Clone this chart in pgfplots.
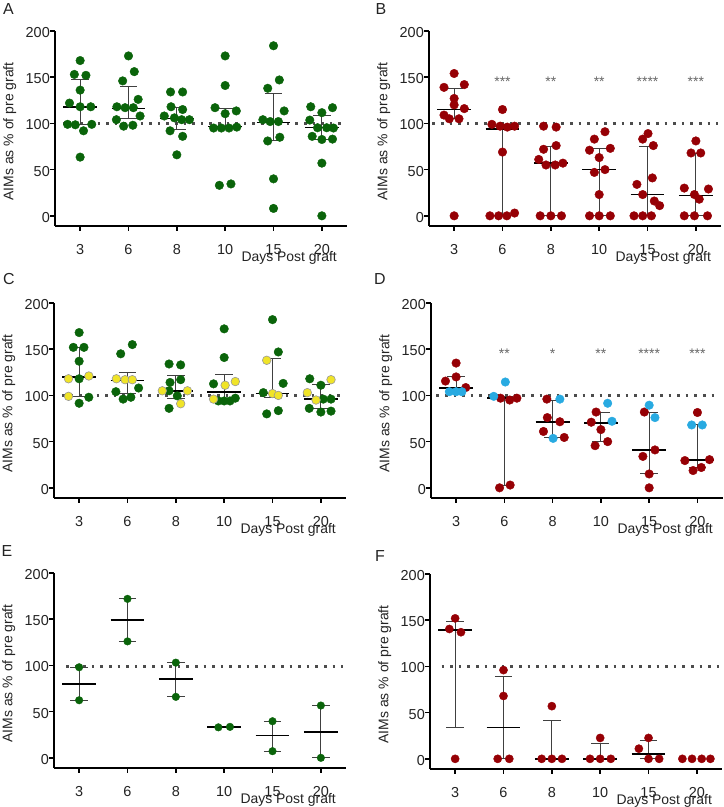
\documentclass[border=0pt]{standalone}
\usepackage{pgfplots}
\pgfplotsset{compat=1.18}
\usepackage{fontspec}
\setmainfont{Liberation Sans}
\definecolor{grn}{RGB}{10,100,10}
\definecolor{rd}{RGB}{150,0,5}
\definecolor{blu}{RGB}{40,170,225}
\definecolor{ylw}{RGB}{240,228,40}
\definecolor{txt}{RGB}{35,35,35}
\newcommand{\iqr}[4]{%
 \pgfmathsetmacro\xl{#1-0.18}\pgfmathsetmacro\xr{#1+0.18}%
 \pgfmathsetmacro\ml{#1-0.35}\pgfmathsetmacro\mr{#1+0.35}%
 \addplot[whisk] coordinates {(#1,#2) (#1,#4)};
 \addplot[whisk] coordinates {(\xl,#2) (\xr,#2)};
 \addplot[whisk] coordinates {(\xl,#4) (\xr,#4)};
 \addplot[med] coordinates {(\ml,#3) (\mr,#3)};
}
\tikzset{stars/.style={font=\fontsize{14}{14}\selectfont, text=black!60, yshift=-5bp}}
\pgfplotsset{
 whisk/.style={black!75, line width=1bp, forget plot},
 med/.style={black, line width=1.6bp, forget plot},
 dotline/.style={line width=3bp, black!70, dash pattern=on 2.6bp off 6bp, forget plot},
 dots/.style={only marks, mark=*, mark size=4.3bp, forget plot},
 panel/.style={
  scale only axis, width=292bp, height=195bp,
  xmin=-0.52, xmax=5.52, ymin=-11, ymax=200,
  axis x line*=bottom, axis y line*=left,
  axis line style={line width=1.8bp, black},
  xtick={0,...,5}, xticklabels={3,6,8,10,15,20},
  ytick={0,50,100,150,200},
  tick style={line width=1.5bp, black},
  major tick length=5bp,
  tick align=outside,
  tick label style={font=\fontsize{14.5}{14.5}\selectfont, text=txt},
  yticklabel style={inner xsep=0bp, yshift=-1.5bp},
  xticklabel style={inner ysep=0bp, yshift=-13bp},
  /pgf/number format/assume math mode=true,
  clip=false,
  ylabel={AIMs as \% of pre graft},
  ylabel style={at={(axis description cs:-0.155,0.485)}, anchor=center, font=\fontsize{14}{14}\selectfont, text=txt},
  xlabel={Days Post graft},
  xlabel style={at={(axis description cs:0.966,-0.13)}, anchor=north east, inner sep=0bp, font=\fontsize{14}{14}\selectfont, text=txt},
 },
}
\begin{document}
\begin{tikzpicture}[x=1bp,y=1bp]
\path[use as bounding box] (0,0) rectangle (724,807);
\node[font=\fontsize{16}{16}\selectfont, text=txt] at (8.5,798) {A};
\node[font=\fontsize{16}{16}\selectfont, text=txt] at (381,798) {B};
\node[font=\fontsize{16}{16}\selectfont, text=txt] at (9,528) {C};
\node[font=\fontsize{16}{16}\selectfont, text=txt] at (380,528) {D};
\node[font=\fontsize{16}{16}\selectfont, text=txt] at (7,256) {E};
\node[font=\fontsize{16}{16}\selectfont, text=txt] at (380,251) {F};

% ---------------- A ----------------
\begin{axis}[panel, at={(55bp,581bp)}, anchor=south west]
\addplot[dotline] coordinates {(-0.35,100) (5.45,100)};
\addplot[dots, color=grn] coordinates {
 (0,168) (-0.12,153) (0.12,152) (0,136) (-0.22,122) (0,118) (0.22,118) (-0.26,99) (-0.1,98.5) (0.24,99) (0.07,92) (0,63.5)
 (1,173) (1.12,156) (0.88,146) (1.2,126) (0.76,118) (0.93,117) (1.1,117) (1.24,108) (0.75,104) (0.9,97) (1.09,98)
 (1.87,134) (2.12,134) (1.88,118) (2.12,115) (1.74,108) (1.95,106) (2.1,104) (2.26,104) (1.86,92) (2.12,86) (2,66)
 (3,173) (3,141) (2.79,117) (3.23,113.5) (3,110.5) (2.76,95) (2.92,95) (3.08,95) (3.24,96) (2.88,33) (3.12,34.5)
 (4,184) (4.12,147) (3.88,138) (4.22,113.5) (3.78,104) (3.93,102) (4.1,102) (3.88,81) (4.13,85) (4,40) (4,8)
 (4.77,118) (5.22,117) (5,111.6) (4.75,103.6) (4.91,95.3) (5.1,95.3) (5.24,95) (4.8,86) (5,82.6) (5.22,83) (5,57) (5,0)
};
\iqr{0}{99}{118}{148}
\iqr{1}{105}{116}{140}
\iqr{2}{93}{105.5}{117}
\iqr{3}{95}{96.5}{116}
\iqr{4}{82}{101}{132}
\iqr{5}{83}{95.5}{109}
\end{axis}

% ---------------- B ----------------
\begin{axis}[panel, at={(429bp,581bp)}, anchor=south west]
\addplot[dotline] coordinates {(-0.45,100) (5.45,100)};
\addplot[dots, color=rd] coordinates {
 (0,154) (-0.21,139) (0.21,142) (0,127) (0,120) (0.21,116) (-0.21,109) (-0.1,105) (0.1,105) (0,0)
 (1,115) (0.78,99) (0.95,97) (1.1,96) (1.25,97) (1,69) (0.74,0) (0.92,0) (1.09,0) (1.25,3)
 (1.85,97) (2.11,96) (2.11,76) (1.85,72) (1.75,61) (1.9,55) (2.09,55) (2.25,57) (1.78,0) (2,0) (2.22,0)
 (3.12,91) (2.9,83) (3.23,73) (2.8,71) (3,63) (2.9,47) (3.12,50) (3,23) (2.8,0) (3,0) (3.23,0)
 (4.01,89) (3.9,83) (4.12,76) (4.1,41) (3.78,34) (3.9,23) (4.14,16) (4.25,11) (3.72,0) (3.9,0) (4.08,0)
 (5,81) (4.9,68) (5.1,68) (4.76,30) (5.26,29) (4.97,23) (5.07,18) (4.76,0) (4.97,0) (5.24,0)
};
\iqr{0}{105}{115}{138}
\iqr{1}{0}{94}{96.5}
\iqr{2}{0}{57}{75}
\iqr{3}{0}{50}{73}
\iqr{4}{0}{23}{75}
\iqr{5}{0}{22}{67}
\node[stars] at (axis cs:1,150) {***};
\node[stars] at (axis cs:2,150) {**};
\node[stars] at (axis cs:3,150) {**};
\node[stars] at (axis cs:4,150) {****};
\node[stars] at (axis cs:5,150) {***};
\end{axis}

% ---------------- C ----------------
\begin{axis}[panel, at={(54bp,309bp)}, anchor=south west]
\addplot[dotline] coordinates {(-0.35,100) (5.45,100)};
\addplot[dots, color=grn] coordinates {
 (0,168) (-0.12,152) (0.1,152) (0,137) (0,118) (0.2,98) (0,91.5)
 (1.1,155) (0.86,145) (1.23,108) (0.76,104) (0.91,96) (1.07,98)
 (1.86,134) (2.1,133) (1.88,114) (2.1,117) (1.86,105) (2.03,99.5) (1.86,86)
 (3,172) (3,141) (2.78,112.5) (3.23,97) (2.88,94) (3.12,94) (3,94)
 (4,182) (4.12,147) (4.22,113) (3.81,103) (3.88,80) (4.12,83.5)
 (4.77,118) (5,111) (5.21,96) (5.05,96) (4.76,86) (5,82) (5.21,83)
};
\addplot[dots, fill=ylw, draw=black!40, line width=0.6bp] coordinates {
 (-0.22,118) (0.2,121) (-0.22,99)
 (0.77,118) (0.95,117) (1.1,117)
 (1.72,105) (2.24,105) (2.1,91)
 (3.02,111) (3.23,115) (2.78,96)
 (3.88,138) (4,102) (4.12,100)
 (5.21,117) (4.72,103) (4.9,95)
};
\iqr{0}{99}{120}{152}
\iqr{1}{102}{116}{125}
\iqr{2}{97}{105}{121}
\iqr{3}{94}{104}{123}
\iqr{4}{98}{102}{140}
\iqr{5}{86}{96}{112}
\end{axis}

% ---------------- D ----------------
\begin{axis}[panel, at={(431bp,309bp)}, anchor=south west, xmax=5.53]
\addplot[dotline] coordinates {(-0.41,100) (5.45,100)};
\addplot[dots, color=rd] coordinates {
 (0,135) (0,120) (-0.22,115.5) (0.2,108.5)
 (0.92,97) (1.11,95) (1.26,97) (0.9,0) (1.12,3)
 (1.88,96) (1.89,76) (2.15,71.5) (1.81,61) (2.24,54.5)
 (2.9,82) (2.8,71) (3,63) (3.14,50) (2.88,45.6)
 (3.9,82) (4.12,41) (3.87,34) (4,15) (4,0)
 (5,81.5) (4.74,29.5) (5.25,30.5) (4.91,18.7) (5.08,22)
};
\addplot[dots, color=blu] coordinates {
 (-0.14,104) (0,104) (0.12,104)
 (1.02,114.5) (0.78,99)
 (2.15,96) (2.01,53.5)
 (3.14,91.5) (3.23,72)
 (4,89.4) (4.12,76)
 (4.88,68) (5.1,68)
};
\iqr{0}{104}{108}{120}
\iqr{1}{3}{97}{98.5}
\iqr{2}{54}{71}{95}
\iqr{3}{50}{70}{82}
\iqr{4}{15}{41}{82}
\iqr{5}{22}{30}{68}
\node[stars] at (axis cs:1,150) {**};
\node[stars] at (axis cs:2,150) {*};
\node[stars] at (axis cs:3,150) {**};
\node[stars] at (axis cs:4,150) {****};
\node[stars] at (axis cs:5,150) {***};
\end{axis}

% ---------------- E ----------------
\begin{axis}[panel, at={(54bp,39bp)}, anchor=south west]
\addplot[dotline] coordinates {(-0.27,99) (5.45,99)};
\addplot[dots, color=grn, mark size=3.8bp] coordinates {
 (0,98) (0,62.3)
 (1,172) (1,126)
 (2,103) (2,66)
 (2.88,33) (3.12,33.5)
 (4,39.6) (4,7.2)
 (5,56.6) (5,0)
};
\iqr{0}{62.3}{80}{98}
\iqr{1}{126}{149}{172}
\iqr{2}{66}{85}{103}
\iqr{3}{33}{33.3}{33.5}
\iqr{4}{7.2}{24}{39.6}
\iqr{5}{0}{28}{56.6}
\end{axis}

% ---------------- F ----------------
\begin{axis}[panel, at={(430bp,38bp)}, anchor=south west]
\addplot[dotline] coordinates {(-0.28,100) (5.45,100)};
\addplot[dots, color=rd, mark size=4.1bp] coordinates {
 (0,152) (-0.12,140.5) (0.12,137) (0,0)
 (1,96) (1,68) (0.88,0) (1.12,0)
 (2,57) (1.79,0) (2,0) (2.21,0)
 (3,22.6) (2.79,0) (3,0) (3.22,0)
 (3.8,11) (4,22.6) (4,0) (4.22,0)
 (4.7,0) (4.9,0) (5.1,0) (5.28,0)
};
\iqr{0}{34}{139.5}{149}
\iqr{1}{0}{34}{89}
\iqr{2}{0}{0}{42}
\iqr{3}{0}{0}{17}
\iqr{4}{0}{5.5}{20}
\end{axis}
\end{tikzpicture}
\end{document}
